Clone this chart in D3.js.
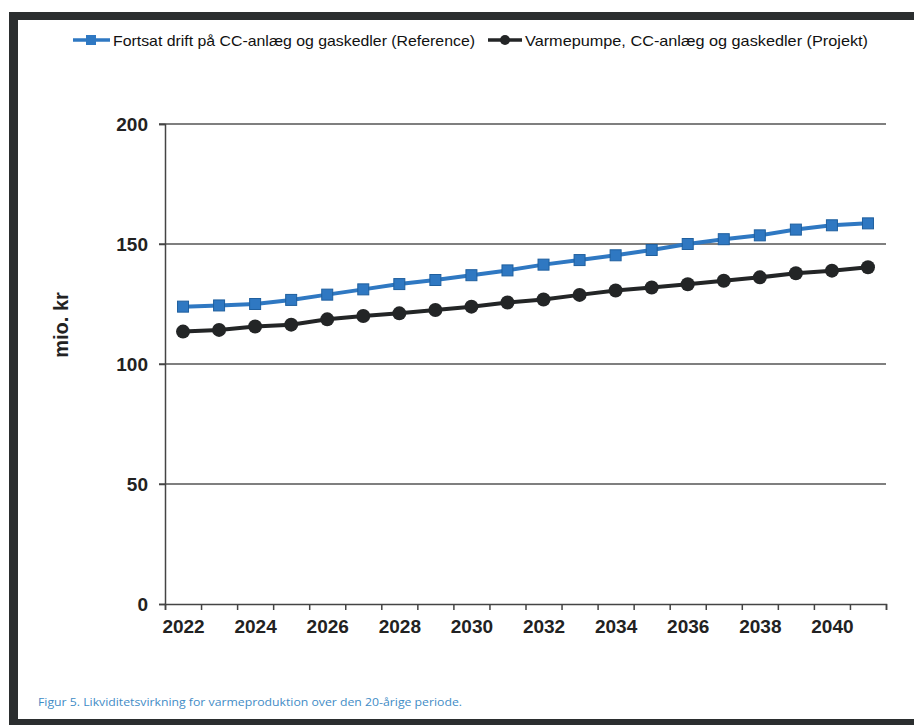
<!DOCTYPE html>
<head>
  <meta charset="utf-8" />
  <script src="https://d3js.org/d3.v7.min.js"></script>
  <style>
    body { margin: 0; background: #fff; }
    text { font-family: "Liberation Sans", Arial, sans-serif; }
  </style>
</head>
<body>
  <script>
    // data
    var years = d3.range(2022, 2042);
    var reference = [123.9, 124.4, 125.0, 126.7, 128.9, 131.1, 133.3, 135.0, 137.0, 139.0,
                     141.4, 143.3, 145.3, 147.5, 150.0, 152.0, 153.6, 156.0, 157.8, 158.6];
    var projekt = [113.5, 114.2, 115.6, 116.4, 118.6, 120.0, 121.1, 122.5, 123.9, 125.6,
                   126.9, 128.8, 130.6, 131.9, 133.2, 134.7, 136.1, 137.8, 138.9, 140.3];
    var yTicks = [0, 50, 100, 150, 200];
    var xLabels = [2022, 2024, 2026, 2028, 2030, 2032, 2034, 2036, 2038, 2040];
    var seriesNames = ["Fortsat drift på CC-anlæg og gaskedler (Reference)",
                       "Varmepumpe, CC-anlæg og gaskedler (Projekt)"];
    var caption = "Figur 5. Likviditetsvirkning for varmeproduktion over den 20-årige periode.";

    var width = 914, height = 725;
    var blue = "#2f78c2", black = "#232526", frame = "#2b2e2f";

    var svg = d3.select("body").append("svg")
      .attr("width", width)
      .attr("height", height);

    // scanned frame
    svg.append("rect").attr("x", 0).attr("y", 0).attr("width", width).attr("height", height).attr("fill", "#fff");
    svg.append("rect").attr("x", 9).attr("y", 12).attr("width", width - 9).attr("height", 8).attr("fill", frame);
    svg.append("rect").attr("x", 9).attr("y", 12).attr("width", 9).attr("height", height - 12).attr("fill", frame);
    svg.append("rect").attr("x", 9).attr("y", 719).attr("width", width - 9).attr("height", 6).attr("fill", frame);

    var x = d3.scaleLinear().domain([2021.5, 2041.5]).range([165, 886]);
    var y = d3.scaleLinear().domain([0, 200]).range([604, 124]);

    // gridlines
    svg.append("g")
      .selectAll("line")
      .data(yTicks.filter(d => d > 0))
      .join("line")
      .attr("x1", 159).attr("x2", 886)
      .attr("y1", d => y(d)).attr("y2", d => y(d))
      .attr("stroke", "#555").attr("stroke-width", 1.5);

    // y axis
    var yAxis = svg.append("g")
      .attr("transform", "translate(165,0)")
      .call(d3.axisLeft(y).tickValues(yTicks).tickSize(6).tickPadding(11));
    yAxis.select(".domain").attr("stroke", "#444").attr("stroke-width", 1.5);
    yAxis.selectAll(".tick line").attr("stroke", "#444").attr("stroke-width", 1.5);
    yAxis.selectAll("text")
      .attr("font-size", 19).attr("font-weight", "bold").attr("fill", "#222")
      .style("font-family", "Liberation Sans, Arial, sans-serif");

    // x axis: ticks at category boundaries, labels every second year
    var xAxis = svg.append("g")
      .attr("transform", "translate(0,604)")
      .call(d3.axisBottom(x).tickValues(d3.range(2021.5, 2042, 1)).tickSize(6).tickFormat(""));
    xAxis.select(".domain").attr("stroke", "#444").attr("stroke-width", 1.5);
    xAxis.selectAll(".tick line").attr("stroke", "#444").attr("stroke-width", 1.5);

    var xLab = svg.append("g")
      .attr("transform", "translate(0,604)")
      .call(d3.axisBottom(x).tickValues(xLabels).tickSize(0).tickPadding(16).tickFormat(d3.format("d")));
    xLab.select(".domain").remove();
    xLab.selectAll("text")
      .attr("font-size", 19).attr("font-weight", "bold").attr("fill", "#222")
      .style("font-family", "Liberation Sans, Arial, sans-serif");

    // y title
    svg.append("text")
      .attr("transform", "translate(68,325) rotate(-90)")
      .attr("text-anchor", "middle")
      .attr("font-size", 20).attr("font-weight", "bold").attr("fill", "#222")
      .text("mio. kr");

    var line = d3.line().x((d, i) => x(years[i])).y(d => y(d));

    // reference series
    svg.append("path").datum(reference)
      .attr("d", line).attr("fill", "none")
      .attr("stroke", blue).attr("stroke-width", 4);
    svg.append("g").selectAll("rect")
      .data(reference)
      .join("rect")
      .attr("x", (d, i) => x(years[i]) - 5.5)
      .attr("y", d => y(d) - 5.5)
      .attr("width", 11).attr("height", 11)
      .attr("fill", blue).attr("stroke", "#1f5f9e").attr("stroke-width", 1);

    // projekt series
    svg.append("path").datum(projekt)
      .attr("d", line).attr("fill", "none")
      .attr("stroke", black).attr("stroke-width", 4);
    svg.append("g").selectAll("circle")
      .data(projekt)
      .join("circle")
      .attr("cx", (d, i) => x(years[i]))
      .attr("cy", d => y(d))
      .attr("r", 7)
      .attr("fill", black);

    // legend
    var lg = svg.append("g");
    lg.append("line").attr("x1", 73).attr("x2", 110).attr("y1", 40).attr("y2", 40)
      .attr("stroke", blue).attr("stroke-width", 3.5);
    lg.append("rect").attr("x", 86).attr("y", 35).attr("width", 10).attr("height", 10).attr("fill", blue);
    lg.append("text").attr("x", 113).attr("y", 46)
      .attr("font-size", 15).attr("fill", "#111")
      .attr("textLength", 362).attr("lengthAdjust", "spacingAndGlyphs")
      .text(seriesNames[0]);
    lg.append("line").attr("x1", 488).attr("x2", 522).attr("y1", 40).attr("y2", 40)
      .attr("stroke", black).attr("stroke-width", 3.5);
    lg.append("circle").attr("cx", 505).attr("cy", 40).attr("r", 5).attr("fill", black);
    lg.append("text").attr("x", 525).attr("y", 46)
      .attr("font-size", 15).attr("fill", "#111")
      .attr("textLength", 343).attr("lengthAdjust", "spacingAndGlyphs")
      .text(seriesNames[1]);

    // caption
    svg.append("text").attr("x", 38).attr("y", 706)
      .attr("font-size", 11).attr("fill", "#3f8cc6")
      .attr("textLength", 424).attr("lengthAdjust", "spacingAndGlyphs")
      .style("font-family", "Open Sans, sans-serif")
      .text(caption);
  </script>
</body>
